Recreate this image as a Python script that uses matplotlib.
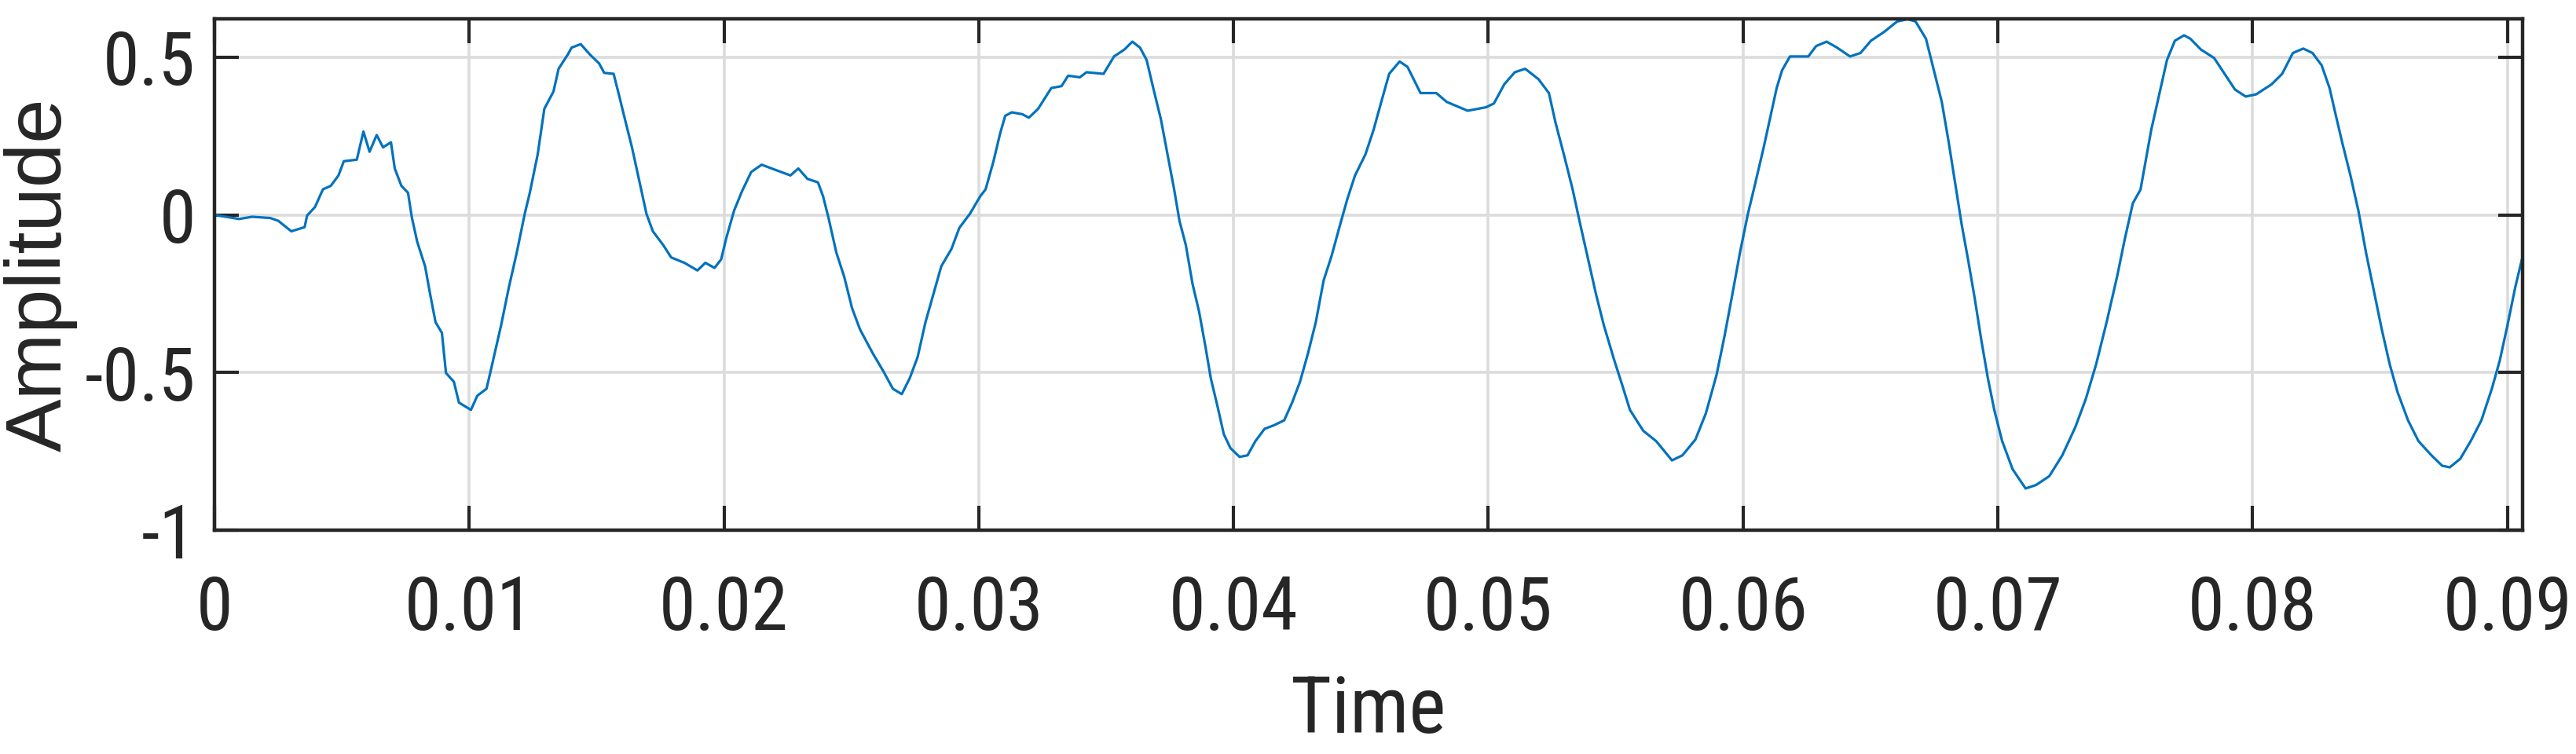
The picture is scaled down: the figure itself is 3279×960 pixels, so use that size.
import numpy as np
import matplotlib
matplotlib.use("Agg")
import matplotlib.pyplot as plt
from matplotlib import font_manager

# ---------------- data (time in ms, amplitude) ----------------
time_ms = [0.0, 0.97, 1.48, 2.2, 2.51, 3.02, 3.54, 3.64, 3.95, 4.26, 4.57, 4.87, 5.08, 5.59, 5.85,
           6.09, 6.37, 6.62, 6.93, 7.08, 7.34, 7.6, 7.75, 7.96, 8.27, 8.47, 8.68, 8.93, 9.09, 9.40,
           9.6, 10.07, 10.32, 10.68, 10.84, 11.25, 11.56, 11.87, 12.18, 12.38, 12.69, 12.95, 13.31,
           13.51, 13.87, 14.02, 14.38, 14.74, 15.1, 15.3, 15.67, 15.88, 16.08, 16.39, 16.69, 16.96,
           17.21, 17.62, 17.93, 18.45, 18.96, 19.27, 19.63, 19.89, 20.09, 20.4, 20.71, 21.07, 21.48,
           22.04, 22.61, 22.92, 23.28, 23.69, 23.89, 24.1, 24.41, 24.72, 25.03, 25.34, 25.85, 26.26,
           26.63, 26.98, 27.29, 27.6, 27.91, 28.22, 28.53, 28.93, 29.24, 29.65, 30.06, 30.27, 30.58,
           30.84, 31.04, 31.3, 31.71, 31.97, 32.33, 32.85, 33.25, 33.51, 33.97, 34.23, 34.9, 35.31,
           35.72, 36.03, 36.33, 36.59, 36.85, 37.15, 37.41, 37.67, 37.88, 38.13, 38.39, 38.65, 38.9,
           39.11, 39.37, 39.62, 39.88, 40.24, 40.55, 40.86, 41.22, 41.58, 41.99, 42.3, 42.61, 42.92,
           43.23, 43.54, 43.85, 44.15, 44.46, 44.77, 45.18, 45.5, 45.8, 46.11, 46.52, 46.83, 47.34,
           47.96, 48.37, 49.19, 49.91, 50.22, 50.63, 51.04, 51.45, 51.97, 52.38, 52.64, 53.0, 53.31,
           53.61, 53.92, 54.23, 54.54, 54.95, 55.26, 55.56, 56.08, 56.59, 57.21, 57.62, 58.13, 58.54,
           58.96, 59.27, 59.58, 59.88, 60.19, 60.45, 60.81, 61.11, 61.32, 61.53, 61.84, 62.56, 62.87,
           63.28, 63.69, 64.2, 64.61, 65.02, 65.54, 66.05, 66.46, 66.77, 67.18, 67.49, 67.8, 68.06,
           68.32, 68.58, 68.83, 69.09, 69.35, 69.61, 69.86, 70.17, 70.58, 71.09, 71.5, 72.02, 72.53,
           73.04, 73.45, 73.86, 74.27, 74.68, 74.99, 75.3, 75.6, 76.02, 76.33, 76.64, 76.95, 77.31,
           77.56, 77.97, 78.49, 78.9, 79.31, 79.73, 80.14, 80.75, 81.16, 81.58, 81.99, 82.35, 82.71,
           83.02, 83.27, 83.53, 83.84, 84.15, 84.45, 84.76, 85.07, 85.38, 85.69, 86.1, 86.51, 87.02,
           87.44, 87.74, 88.15, 88.56, 88.98, 89.39, 89.7, 90.0, 90.31, 90.57, 90.7]

amplitude = [0.0, -0.013, -0.006, -0.01, -0.019, -0.052, -0.039, -0.002, 0.025, 0.081, 0.092, 0.125,
             0.17, 0.175, 0.264, 0.2, 0.253, 0.214, 0.23, 0.147, 0.092, 0.07, -0.008, -0.085, -0.163,
             -0.252, -0.34, -0.374, -0.501, -0.529, -0.595, -0.618, -0.573, -0.551, -0.496, -0.351,
             -0.229, -0.119, 0.003, 0.07, 0.192, 0.336, 0.391, 0.463, 0.508, 0.53, 0.541, 0.508, 0.48,
             0.45, 0.447, 0.38, 0.314, 0.214, 0.103, 0.003, -0.052, -0.096, -0.135, -0.152, -0.176,
             -0.152, -0.168, -0.141, -0.074, 0.014, 0.075, 0.136, 0.159, 0.142, 0.125, 0.147, 0.114,
             0.103, 0.059, -0.008, -0.119, -0.196, -0.296, -0.363, -0.44, -0.496, -0.551, -0.568,
             -0.518, -0.451, -0.34, -0.252, -0.163, -0.108, -0.041, 0.003, 0.059, 0.081, 0.17, 0.258,
             0.314, 0.325, 0.319, 0.308, 0.336, 0.402, 0.408, 0.441, 0.436, 0.452, 0.447, 0.502, 0.524,
             0.549, 0.53, 0.491, 0.402, 0.303, 0.192, 0.081, -0.019, -0.096, -0.218, -0.307, -0.418,
             -0.518, -0.606, -0.695, -0.739, -0.767, -0.762, -0.717, -0.678, -0.667, -0.651, -0.595,
             -0.529, -0.44, -0.34, -0.207, -0.13, -0.041, 0.048, 0.125, 0.192, 0.27, 0.358, 0.447,
             0.486, 0.469, 0.386, 0.386, 0.358, 0.33, 0.341, 0.353, 0.414, 0.452, 0.463, 0.43, 0.386,
             0.292, 0.181, 0.081, -0.03, -0.141, -0.252, -0.351, -0.462, -0.54, -0.618, -0.684, -0.717,
             -0.778, -0.762, -0.712, -0.629, -0.507, -0.385, -0.252, -0.119, 0.003, 0.09, 0.214, 0.325,
             0.402, 0.458, 0.502, 0.502, 0.535, 0.549, 0.53, 0.502, 0.513, 0.552, 0.58, 0.613, 0.62,
             0.613, 0.558, 0.458, 0.358, 0.236, 0.103, -0.03, -0.141, -0.263, -0.396, -0.518, -0.618,
             -0.717, -0.806, -0.867, -0.856, -0.828, -0.762, -0.673, -0.584, -0.473, -0.34, -0.196,
             -0.074, 0.037, 0.08, 0.269, 0.38, 0.491, 0.552, 0.569, 0.558, 0.524, 0.497, 0.447, 0.397,
             0.375, 0.382, 0.414, 0.447, 0.513, 0.527, 0.513, 0.474, 0.402, 0.314, 0.225, 0.125, 0.014,
             -0.119, -0.241, -0.363, -0.473, -0.562, -0.651, -0.717, -0.762, -0.795, -0.8, -0.773,
             -0.717, -0.651, -0.551, -0.462, -0.351, -0.229, -0.141, -0.11]

x_ticks = [0, 0.01, 0.02, 0.03, 0.04, 0.05, 0.06, 0.07, 0.08, 0.09]
x_tick_labels = ["0", "0.01", "0.02", "0.03", "0.04", "0.05", "0.06", "0.07", "0.08", "0.09"]
y_ticks = [-1, -0.5, 0, 0.5]
y_tick_labels = ["-1", "-0.5", "0", "0.5"]
x_label = "Time"
y_label = "Amplitude"

# ---------------- fonts ----------------
names = {f.name for f in font_manager.fontManager.ttflist}
narrow = "Liberation Sans"
for cand in ["Liberation Sans Narrow", "Nimbus Sans Narrow", "Arial Narrow", "Roboto Condensed",
             "Archivo Narrow", "Open Sans Condensed", "Noto Sans Condensed"]:
    if cand in names:
        narrow = cand
        break
regular = "Liberation Sans" if "Liberation Sans" in names else "DejaVu Sans"

t = np.array(time_ms) / 1000.0
a = np.array(amplitude)

fig = plt.figure(figsize=(32.8, 9.6), dpi=100)
ax = fig.add_axes([0.0832, 0.2965, 0.979 - 0.0832, 0.9745 - 0.2965])

ax.plot(t, a, color="#0072BD", lw=2.3, solid_joinstyle="round")

ax.set_xlim(0, 0.0906)
ax.set_ylim(-1, 0.62)
ax.set_xticks(x_ticks)
ax.set_xticklabels(x_tick_labels)
ax.set_yticks(y_ticks)
ax.set_yticklabels(y_tick_labels)

ax.grid(True, color="#dcdcdc", lw=2.6)
ax.set_axisbelow(True)

edge = "#262626"
for s in ax.spines.values():
    s.set_linewidth(3.2)
    s.set_color(edge)

ax.tick_params(axis="both", which="major", direction="in", top=True, right=True,
               length=22, width=3.0, color=edge, labelcolor=edge,
               labelsize=68, labelfontfamily=narrow)
ax.tick_params(axis="x", pad=40)
ax.tick_params(axis="y", pad=17)

ax.set_xlabel(x_label, fontsize=72, fontfamily=narrow, color=edge, va="top")
ax.xaxis.set_label_coords(0.5, -0.281)
ax.set_ylabel(y_label, fontsize=73, fontfamily=regular, color=edge, va="center")
ax.yaxis.set_label_coords(-0.0754, 0.5)

fig.savefig("out.png", dpi=100, facecolor="white")
